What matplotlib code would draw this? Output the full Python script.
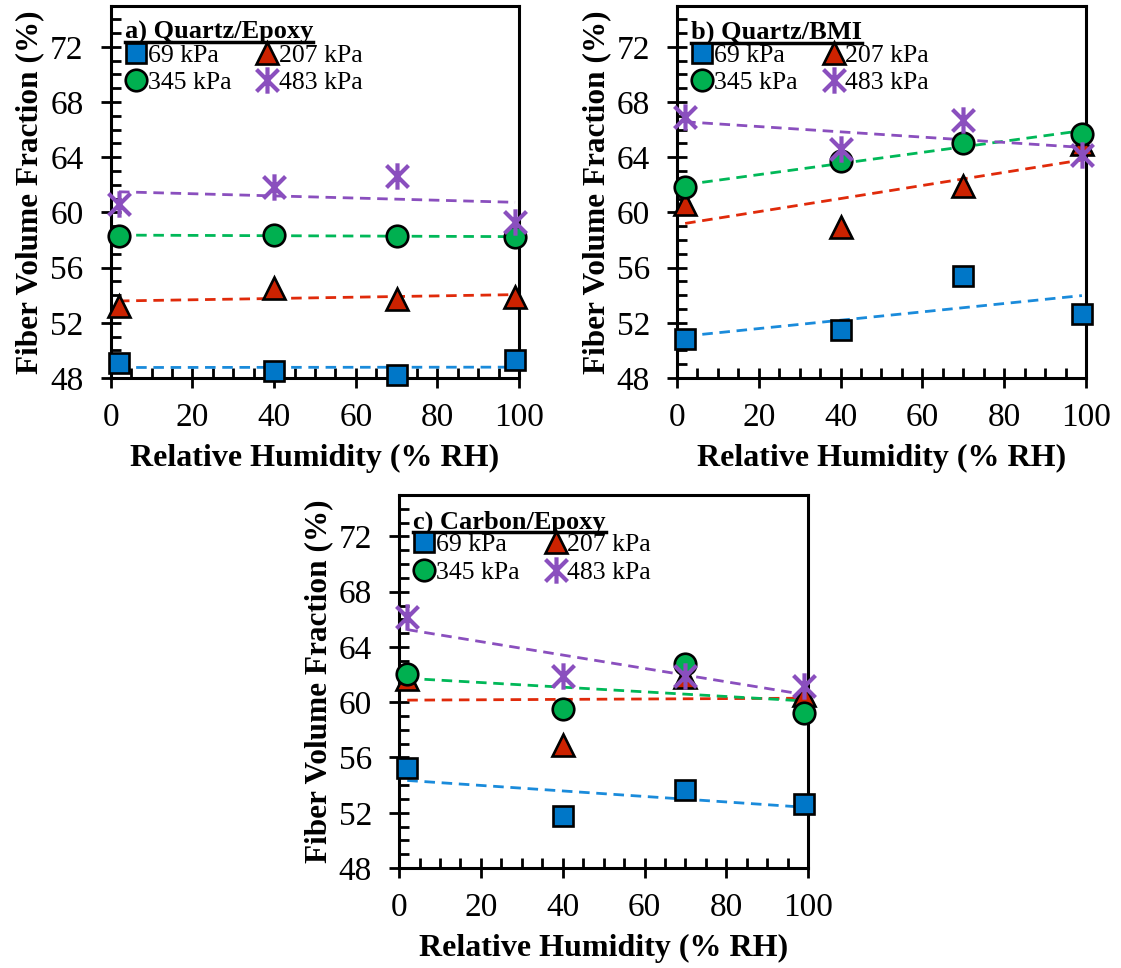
import numpy as np
import matplotlib
matplotlib.use('Agg')
import matplotlib.pyplot as plt
from matplotlib.path import Path
from matplotlib.ticker import MultipleLocator

plt.rcParams['font.family'] = ['Liberation Serif', 'DejaVu Serif']

# relative humidity of each conditioning step (% RH)
rh = [2, 40, 70, 99]
pressures = ['69 kPa', '207 kPa', '345 kPa', '483 kPa']

# fiber volume fraction (%) - quartz/epoxy
qe_69 = [49.1, 48.5, 48.2, 49.3]
qe_207 = [53.2, 54.5, 53.7, 53.9]
qe_345 = [58.3, 58.4, 58.3, 58.2]
qe_483 = [60.6, 61.85, 62.65, 59.3]

# quartz/BMI
qb_69 = [50.8, 51.45, 55.4, 52.65]
qb_207 = [60.6, 58.95, 61.95, 64.95]
qb_345 = [61.85, 63.7, 65.0, 65.7]
qb_483 = [66.9, 64.6, 66.7, 64.2]

# carbon/epoxy
ce_69 = [55.25, 51.75, 53.65, 52.65]
ce_207 = [61.7, 56.9, 61.8, 60.5]
ce_345 = [62.05, 59.5, 62.75, 59.2]
ce_483 = [66.2, 61.9, 61.9, 61.2]

panels = [
    ('a) Quartz/Epoxy', [qe_69, qe_207, qe_345, qe_483]),
    ('b) Quartz/BMI', [qb_69, qb_207, qb_345, qb_483]),
    ('c) Carbon/Epoxy', [ce_69, ce_207, ce_345, ce_483]),
]

# excel style star: an X with a vertical bar through it
star = Path([(-1, -1), (1, 1), (-1, 1), (1, -1), (0, -1.2), (0, 1.2)],
            [Path.MOVETO, Path.LINETO, Path.MOVETO, Path.LINETO, Path.MOVETO, Path.LINETO])

fill_cols = ['#0077C8', '#CC2200', '#00B050', '#8A4FBE']
trend_cols = ['#1A8BDB', '#E02A0A', '#00B858', '#8A4FBE']
mstyles = [
    dict(marker='s', ms=14.5, mec='black', mew=1.9),
    dict(marker='^', ms=15.5, mec='black', mew=1.9),
    dict(marker='o', ms=15.5, mec='black', mew=1.9),
    dict(marker=star, ms=19, mec='#8A4FBE', mew=3.0),
]

fig = plt.figure(figsize=(11.21, 9.68), dpi=100)
rects = [
    [0.0988, 0.6095, 0.3643, 0.3848],
    [0.6039, 0.6095, 0.3649, 0.3848],
    [0.3560, 0.1033, 0.3649, 0.3853],
]

for rect, (title, series) in zip(rects, panels):
    ax = fig.add_axes(rect)
    handles = []
    for vals, fc, tc, st in zip(series, fill_cols, trend_cols, mstyles):
        # linear trendline over the measured range
        k, b = np.polyfit(rh, vals, 1)
        xs = np.array([min(rh), max(rh)])
        ax.plot(xs, k * xs + b, color=tc, lw=2.0, dashes=(3.8, 2.4), zorder=2)
        h, = ax.plot(rh, vals, ls='none', mfc=fc, zorder=3, clip_on=False, **st)
        handles.append(h)

    ax.set_xlim(0, 100)
    ax.set_ylim(48, 75)
    ax.xaxis.set_major_locator(MultipleLocator(20))
    ax.xaxis.set_minor_locator(MultipleLocator(5))
    ax.yaxis.set_major_locator(MultipleLocator(4))
    ax.yaxis.set_minor_locator(MultipleLocator(1))
    ax.tick_params(which='major', direction='inout', length=15, width=2, labelsize=24)
    ax.tick_params(axis='x', which='major', pad=10)
    ax.tick_params(axis='y', which='major', pad=12)
    ax.tick_params(which='minor', direction='in', length=7, width=2)
    for s in ax.spines.values():
        s.set_linewidth(2.2)
    ax.set_xlabel('Relative Humidity (% RH)', fontsize=23, fontweight='bold', labelpad=8)
    ax.set_ylabel('Fiber Volume Fraction (%)', fontsize=22.5, fontweight='bold', labelpad=4)

    order = [0, 2, 1, 3]
    ax.legend([handles[i] for i in order], [pressures[i] for i in order], ncol=2,
              loc='upper left', bbox_to_anchor=(0.037, 0.897), borderaxespad=0,
              frameon=False, fontsize=18.5, handlelength=0.8, handletextpad=0.05,
              columnspacing=1.0, labelspacing=0.18, borderpad=0)

    t = ax.text(0.035, 0.928, title, transform=ax.transAxes, fontsize=19,
                fontweight='bold', ha='left', va='center')
    fig.canvas.draw()
    bb = t.get_window_extent().transformed(ax.transAxes.inverted())
    ax.plot([bb.x0, bb.x1], [bb.y0 + 0.004, bb.y0 + 0.004], color='black', lw=2.5,
            transform=ax.transAxes, clip_on=False)

fig.savefig('out.png', dpi=100)
